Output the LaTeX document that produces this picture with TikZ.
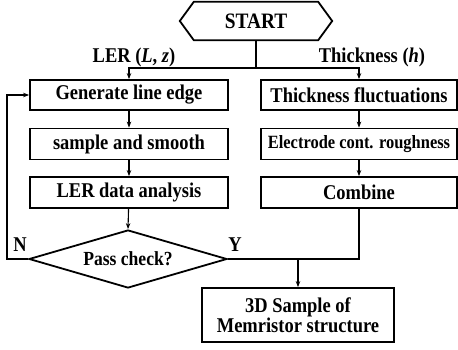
\documentclass[tikz,border=0pt]{standalone}
\usepackage{fontspec}
\newfontfamily\cf[FakeStretch=0.88]{Liberation Serif}
\usetikzlibrary{shapes.geometric,arrows.meta,calc}
\begin{document}
\begin{tikzpicture}[x=1pt,y=-1pt,
  txt/.style={font=\cf\fontsize{21}{19}\selectfont\bfseries},
  box/.style={draw,line width=1.8pt,inner sep=0pt,txt},
  conn/.style={line width=1.1pt},
  arr/.style={conn,-{Stealth[length=6pt,width=4.5pt]}}]
\useasboundingbox (0,0) rectangle (458,349);
% start hexagon
\node[inner sep=0pt,minimum width=152pt,minimum height=38pt,font=\cf\fontsize{22}{24}\selectfont\bfseries] (start) at (256,21) {START};
\draw[line width=1.8pt] (start.west) -- ($(start.north west)+(14,0)$) -- ($(start.north east)+(-14,0)$) -- (start.east) -- ($(start.south east)+(-14,0)$) -- ($(start.south west)+(14,0)$) -- cycle;
% left column
\node[box,minimum width=198pt,minimum height=30pt] (b1) at (129,95) {Generate line edge};
\node[box,minimum width=198pt,minimum height=31pt] (b2) at (129,144) {sample and smooth};
\node[box,minimum width=198pt,minimum height=31pt] (b3) at (129,192.5) {LER data analysis};
\node[draw,diamond,line width=1.8pt,aspect=3.4,inner sep=1pt,minimum width=198pt,minimum height=58pt,txt,font=\cf\fontsize{20}{22}\selectfont\bfseries] (dia) at (128,259) {Pass check?};
% right column
\node[box,minimum width=196pt,minimum height=30pt] (r1) at (359,95) {Thickness fluctuations};
\node[box,minimum width=196pt,minimum height=31pt,font=\cf\fontsize{18.7}{20}\selectfont\bfseries] (r2) at (359,144) {Electrode cont. roughness};
\node[box,minimum width=196pt,minimum height=31pt] (r3) at (359,192.5) {Combine};
% final
\node[box,minimum width=192pt,minimum height=54pt,align=center] (fin) at (298,315) {3D Sample of\\Memristor structure};
% labels
\node[txt,inner sep=0pt] (lerlab) at (134,57) {LER (\textit{L}, \textit{z})};
\node[txt,inner sep=0pt] (thlab) at (372,57) {Thickness (\textit{h})};
\node[txt,inner sep=0pt] (nlab) at (20,245) {N};
\node[txt,inner sep=0pt] (ylab) at (235,245) {Y};
% connectors
\coordinate (split) at (256,68);
\draw[conn] (start.south) -- (split);
\draw[arr] (split) -| (b1.north);
\draw[arr] (split) -| (r1.north);
\draw[arr] (b1) -- (b2);
\draw[arr] (b2) -- (b3);
\draw[arr] (b3) -- (dia.north);
\draw[arr] (r1) -- (r2);
\draw[arr] (r2) -- (r3);
\coordinate (join) at (r3.south |- dia.east);
\draw[conn] (r3.south) -- (join) -- (dia.east);
\draw[arr] (fin.north |- dia.east) -- (fin.north);
\coordinate (nleft) at (7,259);
\draw[arr] (dia.west) -- (nleft) |- (b1.west);
\end{tikzpicture}
\end{document}
